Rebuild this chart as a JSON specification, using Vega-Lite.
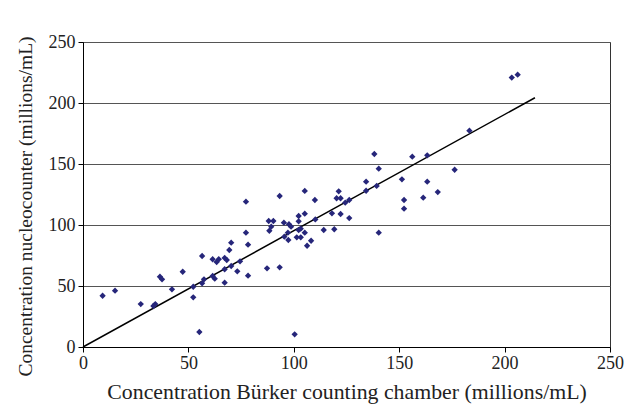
{
  "$schema": "https://vega.github.io/schema/vega-lite/v6.json",
  "width": 527,
  "height": 305,
  "autosize": {"type": "none"},
  "padding": {"left": 83, "top": 42, "right": 16, "bottom": 65},
  "background": "white",
  "config": {
    "view": {"stroke": "#333", "strokeWidth": 1},
    "axis": {
      "labelFont": "Liberation Serif",
      "titleFont": "Liberation Serif",
      "labelFontSize": 18,
      "labelColor": "#222",
      "titleColor": "#222",
      "titleFontWeight": "normal",
      "domainColor": "#000",
      "tickColor": "#000",
      "tickSize": 5,
      "labelFlush": false
    }
  },
  "datasets": {
    "pts": [
      {"burker": 9.3, "nucleo": 42}, {"burker": 15.2, "nucleo": 46.2}, {"burker": 27.4, "nucleo": 35.2},
      {"burker": 33.4, "nucleo": 33.6}, {"burker": 34.3, "nucleo": 35.2}, {"burker": 36.5, "nucleo": 57.6},
      {"burker": 37.5, "nucleo": 55.5}, {"burker": 42.2, "nucleo": 47.3}, {"burker": 47.3, "nucleo": 61.7},
      {"burker": 52.3, "nucleo": 40.7}, {"burker": 52.3, "nucleo": 49.4}, {"burker": 55.2, "nucleo": 12.3},
      {"burker": 56.5, "nucleo": 74.6}, {"burker": 56.5, "nucleo": 52.2}, {"burker": 57.4, "nucleo": 55.5},
      {"burker": 61.5, "nucleo": 71.9}, {"burker": 63.4, "nucleo": 69.7}, {"burker": 64.4, "nucleo": 71.9},
      {"burker": 61.5, "nucleo": 58.2}, {"burker": 62.5, "nucleo": 56}, {"burker": 67.2, "nucleo": 73},
      {"burker": 68.2, "nucleo": 71.3}, {"burker": 67.2, "nucleo": 63.7}, {"burker": 67.2, "nucleo": 52.7},
      {"burker": 69.4, "nucleo": 79.5}, {"burker": 70.3, "nucleo": 85.5}, {"burker": 70.3, "nucleo": 66.4},
      {"burker": 73.2, "nucleo": 62}, {"burker": 74.5, "nucleo": 70.2}, {"burker": 77.3, "nucleo": 119.1},
      {"burker": 77.3, "nucleo": 93.7}, {"burker": 78.3, "nucleo": 83.9}, {"burker": 78.3, "nucleo": 58.5},
      {"burker": 87.3, "nucleo": 64.5}, {"burker": 88.1, "nucleo": 103.3}, {"burker": 89.3, "nucleo": 98.6},
      {"burker": 90.3, "nucleo": 103.3}, {"burker": 88.4, "nucleo": 95.3}, {"burker": 93.3, "nucleo": 123.8},
      {"burker": 93.3, "nucleo": 65.3}, {"burker": 95.3, "nucleo": 101.9}, {"burker": 97.7, "nucleo": 100.6},
      {"burker": 98.7, "nucleo": 98.6}, {"burker": 95.5, "nucleo": 90.4}, {"burker": 97.4, "nucleo": 87.7},
      {"burker": 97.2, "nucleo": 93.7}, {"burker": 101.4, "nucleo": 89.9}, {"burker": 103.3, "nucleo": 89.9},
      {"burker": 102.3, "nucleo": 107.4}, {"burker": 102.3, "nucleo": 103}, {"burker": 102.3, "nucleo": 95.9},
      {"burker": 103.3, "nucleo": 97}, {"burker": 105.2, "nucleo": 109.3}, {"burker": 105.2, "nucleo": 127.9},
      {"burker": 105.2, "nucleo": 93.7}, {"burker": 106.3, "nucleo": 83}, {"burker": 108.2, "nucleo": 87.1},
      {"burker": 110, "nucleo": 120.5}, {"burker": 110.2, "nucleo": 104.6}, {"burker": 114.2, "nucleo": 95.9},
      {"burker": 118.1, "nucleo": 109.6}, {"burker": 119.2, "nucleo": 96.5}, {"burker": 120.3, "nucleo": 121.9},
      {"burker": 122.2, "nucleo": 121.9}, {"burker": 121.3, "nucleo": 127.6}, {"burker": 122.2, "nucleo": 109},
      {"burker": 124.4, "nucleo": 118.3}, {"burker": 126.3, "nucleo": 120.5}, {"burker": 126.3, "nucleo": 105.7},
      {"burker": 134.3, "nucleo": 135.5}, {"burker": 134.3, "nucleo": 128.1}, {"burker": 139.3, "nucleo": 132},
      {"burker": 140.3, "nucleo": 93.7}, {"burker": 138.2, "nucleo": 158.2}, {"burker": 140.3, "nucleo": 146.2},
      {"burker": 151.3, "nucleo": 137.4}, {"burker": 152.3, "nucleo": 120.5}, {"burker": 152.3, "nucleo": 113.4},
      {"burker": 156.2, "nucleo": 156}, {"burker": 161.4, "nucleo": 122.4}, {"burker": 163.3, "nucleo": 135.5},
      {"burker": 163.3, "nucleo": 157.1}, {"burker": 168.3, "nucleo": 127}, {"burker": 176.3, "nucleo": 145.3},
      {"burker": 183.3, "nucleo": 177.3}, {"burker": 203.4, "nucleo": 220.8}, {"burker": 206.2, "nucleo": 223.2},
      {"burker": 100.4, "nucleo": 10.4}
    ],
    "fit": [
      {"burker": 0, "nucleo": 0},
      {"burker": 214.4, "nucleo": 204.3}
    ]
  },
  "layer": [
    {
      "data": {"name": "fit"},
      "mark": {"type": "line", "color": "#000", "strokeWidth": 1.5},
      "encoding": {
        "x": {"field": "burker", "type": "quantitative"},
        "y": {"field": "nucleo", "type": "quantitative"}
      }
    },
    {
      "data": {"name": "pts"},
      "mark": {"type": "point", "shape": "diamond", "filled": true, "color": "#26267a", "size": 40, "opacity": 1},
      "encoding": {
        "x": {
          "field": "burker", "type": "quantitative",
          "scale": {"domain": [0, 250], "nice": false, "zero": true},
          "axis": {"values": [0, 50, 100, 150, 200, 250], "grid": false, "title": "Concentration Bürker counting chamber (millions/mL)", "titleFontSize": 21.8, "titlePadding": 9, "labelPadding": 2}
        },
        "y": {
          "field": "nucleo", "type": "quantitative",
          "scale": {"domain": [0, 250], "nice": false},
          "axis": {"values": [0, 50, 100, 150, 200, 250], "grid": true, "gridColor": "#555", "gridWidth": 1, "gridOpacity": 1, "title": "Concentration nucleocounter (millions/mL)", "titleFontSize": 19.5, "titleY": 164, "titlePadding": 13, "labelPadding": 3}
        }
      }
    }
  ]
}
